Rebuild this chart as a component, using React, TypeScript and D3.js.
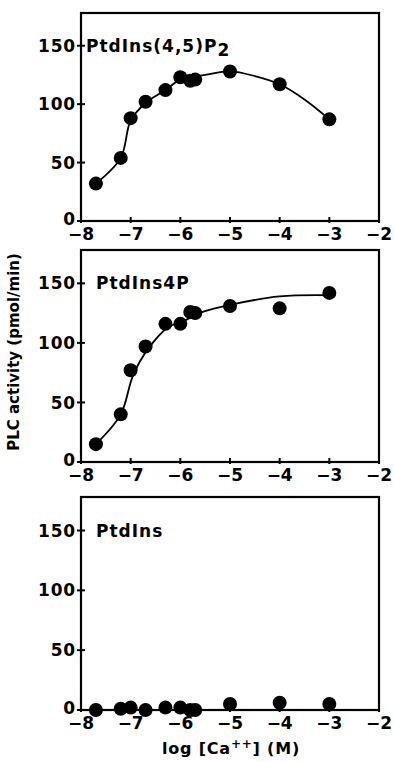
import * as d3 from "d3";

// log [Ca++] values, shared by the three panels
const logCa = [-7.7, -7.2, -7.0, -6.7, -6.3, -6.0, -5.8, -5.7, -5.0, -4.0, -3.0];

// PLC activity (pmol/min) per substrate
const pip2Values = [32, 54, 88, 102, 112, 123, 120, 121, 128, 117, 87];
const pip1Values = [15, 40, 77, 97, 116, 116, 126, 125, 131, 129, 142];
const piValues = [0, 1, 2, 0, 2, 2, 0, 0, 5, 6, 5];

// fitted curves
const pip2CurveX = [-7.7, -7.2, -7.0, -6.7, -6.3, -6.0, -5.5, -5.0, -4.5, -4.0, -3.5, -3.0];
const pip2CurveY = [32, 54, 86, 101, 112, 121, 125, 128, 124, 117, 104, 87];
const pip1CurveX = [-7.7, -7.2, -6.95, -6.65, -6.25, -5.95, -5.55, -5.0, -4.0, -3.0];
const pip1CurveY = [15, 40, 73, 95, 113, 118, 126, 132, 139, 140];

const xTicks = [-8, -7, -6, -5, -4, -3, -2];
const yTicks = [0, 50, 100, 150];

const font = "'DejaVu Sans', sans-serif";

interface PanelProps {
  top: number;
  bottom: number;
  label: string;
  sub?: string;
  labelX: number;
  values: number[];
  curveX?: number[];
  curveY?: number[];
}

const left = 81;
const right = 379;

const Panel = ({ top, bottom, label, sub, labelX, values, curveX, curveY }: PanelProps) => {
  const x = d3.scaleLinear().domain([-8, -2]).range([left, right]);
  const y = d3.scaleLinear().domain([0, 178]).range([bottom, top]);

  let curvePath = "";
  if (curveX && curveY) {
    const pts: [number, number][] = curveX.map((v, i) => [v, curveY[i]]);
    curvePath =
      d3
        .line<[number, number]>()
        .x((d) => x(d[0]))
        .y((d) => y(d[1]))
        .curve(d3.curveCatmullRom.alpha(0.5))(pts) || "";
  }

  return (
    <g>
      {/* frame */}
      <rect x={left} y={top} width={right - left} height={bottom - top} fill="none" stroke="#000" strokeWidth={2.2} />
      {/* y ticks */}
      {yTicks.map((t) => (
        <g key={"y" + t}>
          <line x1={left - 4} x2={left + 4} y1={y(t)} y2={y(t)} stroke="#000" strokeWidth={2} />
          <text
            x={left - 5}
            y={y(t) - (t === 0 ? 2 : 0)}
            dy="0.36em"
            textAnchor="end"
            fontFamily={font}
            fontWeight="bold"
            fontSize={17}
            letterSpacing={0.8}
          >
            {t}
          </text>
        </g>
      ))}
      {/* x ticks */}
      {xTicks.map((t) => (
        <g key={"x" + t}>
          <line x1={x(t)} x2={x(t)} y1={bottom - 4} y2={bottom + 2} stroke="#000" strokeWidth={2} />
          <text x={x(t)} y={bottom + 19} textAnchor="middle" fontFamily={font} fontWeight="bold" fontSize={17}>
            {"\u2212" + Math.abs(t)}
          </text>
        </g>
      ))}
      {curvePath && <path d={curvePath} fill="none" stroke="#000" strokeWidth={1.8} />}
      {values.map((v, i) => (
        <circle key={i} cx={x(logCa[i])} cy={y(v)} r={7} fill="#000" />
      ))}
      <text x={labelX} y={y(150) + 6} fontFamily={font} fontWeight="bold" fontSize={17} letterSpacing={1}>
        {label}
        {sub && <tspan dy={4}>{sub}</tspan>}
      </text>
    </g>
  );
};

const App = () => {
  return (
    <svg width={394} height={762} style={{ position: "absolute", left: 0, top: 0, background: "#fff" }}>
      <Panel top={13} bottom={221} label="PtdIns(4,5)P" sub="2" labelX={86} values={pip2Values} curveX={pip2CurveX} curveY={pip2CurveY} />
      <Panel top={250} bottom={462} label="PtdIns4P" labelX={96} values={pip1Values} curveX={pip1CurveX} curveY={pip1CurveY} />
      <Panel top={497} bottom={710} label="PtdIns" labelX={96} values={piValues} />
      <text
        transform="translate(14,352) rotate(-90)"
        textAnchor="middle"
        dominantBaseline="middle"
        fontFamily={font}
        fontWeight="bold"
        fontSize={15}
      >
        PLC activity (pmol/min)
      </text>
      <text x={231} y={754} textAnchor="middle" fontFamily={font} fontWeight="bold" fontSize={16} letterSpacing={0.8}>
        log [Ca
        <tspan dy={-6} fontSize={12}>++</tspan>
        <tspan dy={6}>] (M)</tspan>
      </text>
    </svg>
  );
};

export default App;
